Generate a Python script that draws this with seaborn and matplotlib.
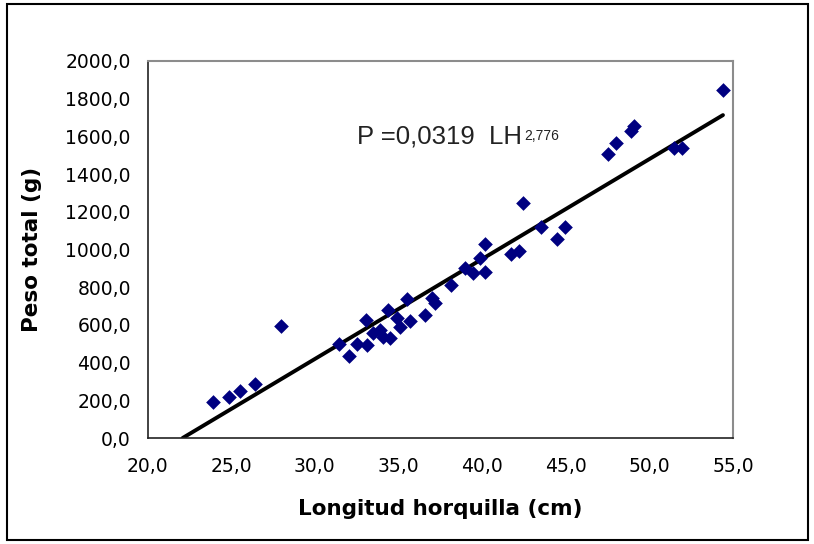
import seaborn as sns
import matplotlib.pyplot as plt
import matplotlib.ticker as mticker
from matplotlib.patches import Rectangle
import pandas as pd

# -----------------------------------------
# Data
# -----------------------------------------
longitud = [23.9, 24.9, 25.5, 26.4, 28.0, 31.45, 32.05, 32.5, 33.05, 33.1,
            33.5, 33.9, 34.1, 34.5, 34.4, 34.9, 35.1, 35.7, 35.5, 36.6,
            37.0, 37.2, 38.15, 39.0, 39.45, 39.85, 40.2, 40.2, 41.7, 42.2,
            42.45, 43.55, 44.5, 44.95, 47.5, 48.0, 48.9, 49.1, 51.45, 51.95,
            54.4]
peso = [189, 219, 251, 286, 594, 497, 435, 497, 626, 493,
        555, 573, 537, 529, 679, 635, 590, 621, 736, 653,
        745, 715, 812, 900, 874, 953, 1028, 879, 976, 994,
        1248, 1121, 1056, 1121, 1505, 1565, 1630, 1655, 1537, 1537,
        1845]

# trend line end points (as drawn in the chart)
fit_x = [22.1, 54.4]
fit_y = [0, 1713]

df = pd.DataFrame({"Longitud": longitud, "Peso": peso})
fit = pd.DataFrame({"x": fit_x, "y": fit_y})

# -----------------------------------------
# Styling
# -----------------------------------------
sns.set_style("white")
plt.rcParams['font.family'] = ['DejaVu Sans']
plt.rcParams['text.color'] = 'black'
plt.rcParams['axes.labelcolor'] = 'black'

fig = plt.figure(figsize=(8.14, 5.44), dpi=100)
ax = fig.add_axes([147.5 / 814, 1 - 438 / 544, (733 - 147.5) / 814, (438 - 61) / 544])

sns.scatterplot(data=df, x="Longitud", y="Peso", marker="D", s=56,
                color="#000080", edgecolor="#000080", linewidth=0, ax=ax, zorder=3)
sns.lineplot(data=fit, x="x", y="y", color="black", linewidth=2.8, ax=ax, zorder=2)

ax.set_xlim(20, 55)
ax.set_ylim(0, 2000)
ax.xaxis.set_major_locator(mticker.MultipleLocator(5))
ax.yaxis.set_major_locator(mticker.MultipleLocator(200))
comma = mticker.FuncFormatter(lambda v, p: f"{v:.1f}".replace(".", ","))
ax.xaxis.set_major_formatter(comma)
ax.yaxis.set_major_formatter(comma)

ax.tick_params(axis="both", direction="out", length=5, width=1, color="#333333",
               labelsize=13.5, labelcolor="black")
ax.tick_params(axis="y", pad=7)
ax.tick_params(axis="x", pad=9)

for side in ["left", "bottom"]:
    ax.spines[side].set_color("#222222")
    ax.spines[side].set_linewidth(1.2)
for side in ["top", "right"]:
    ax.spines[side].set_color("#8c8c8c")
    ax.spines[side].set_linewidth(1.5)

ax.set_xlabel("Longitud horquilla (cm)", fontsize=15.5, fontweight="bold", labelpad=16)
ax.set_ylabel("Peso total (g)", fontsize=15.5, fontweight="bold", labelpad=17)

eq = ax.text(32.55, 1600, "P =0,0319  LH", fontsize=18.5, family="Liberation Sans",
             color="#222222", va="center", ha="left")
ax.annotate("2,776", xy=(1.0, 1.0), xycoords=eq, xytext=(1, -3), textcoords="offset points",
            fontsize=10, family="Liberation Sans", color="#222222", va="top", ha="left")

# outer chart border
fig.patches.append(Rectangle((7 / 814, 4 / 544), 801 / 814, 536 / 544,
                             transform=fig.transFigure, fill=False,
                             edgecolor="black", linewidth=1.5))

plt.savefig("out.png", dpi=100)
